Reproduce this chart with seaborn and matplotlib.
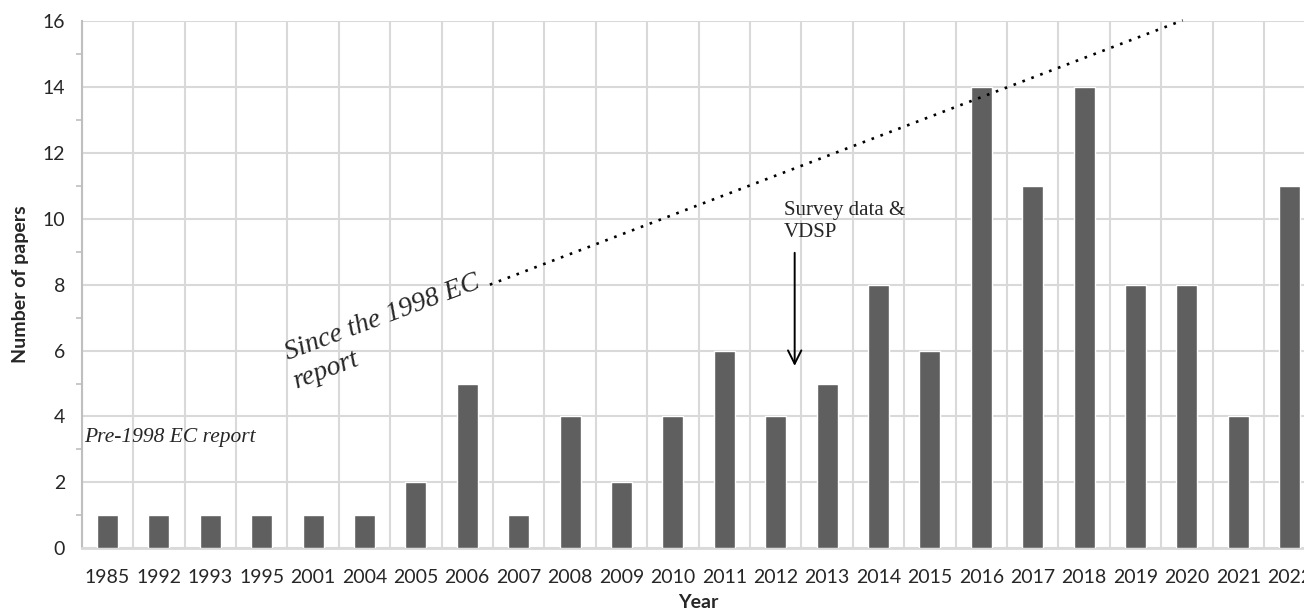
import numpy as np
import pandas as pd
import matplotlib
matplotlib.use("Agg")
import matplotlib.pyplot as plt
import seaborn as sns
from matplotlib.ticker import MultipleLocator

# Data
years = ["1985", "1992", "1993", "1995", "2001", "2004", "2005", "2006", "2007",
         "2008", "2009", "2010", "2011", "2012", "2013", "2014", "2015", "2016",
         "2017", "2018", "2019", "2020", "2021", "2022"]
papers = [1, 1, 1, 1, 1, 1, 2, 5, 1, 4, 2, 4, 6, 4, 5, 8, 6, 14, 11, 14, 8, 8, 4, 11]

BAR_COLOR = "#5f5f5f"
GRID_COLOR = "#d9d9d9"

sns.set_style("white")
plt.rcParams['font.family'] = ['Lato', 'DejaVu Sans']

df = pd.DataFrame({"Year": years, "Papers": papers})

fig = plt.figure(figsize=(13.04, 6.14), dpi=100)
# axes run slightly past the right edge, as in the cropped original
ax = fig.add_axes([0.0627, 0.107, 0.946, 0.8588])

sns.barplot(data=df, x="Year", y="Papers", order=years, color=BAR_COLOR,
            width=0.41, saturation=1, ax=ax, zorder=3)

n = len(years)
ax.set_xlim(-0.5, n - 0.5)
ax.set_ylim(0, 16)
ax.yaxis.set_major_locator(MultipleLocator(2))
ax.yaxis.set_minor_locator(MultipleLocator(1))

# gridlines: horizontal at major ticks, vertical at category boundaries
ax.grid(axis="y", which="major", color=GRID_COLOR, linewidth=1.5, zorder=0)
for b in np.arange(-0.5, n + 0.5, 1.0):
    ax.axvline(b, color=GRID_COLOR, linewidth=1.5, zorder=0)

for side in ["top", "right"]:
    ax.spines[side].set_visible(False)
ax.spines["left"].set_color("#bfbfbf")
ax.spines["left"].set_linewidth(1.5)
ax.spines["bottom"].set_color(GRID_COLOR)
ax.spines["bottom"].set_linewidth(2)

ax.tick_params(axis="y", which="major", direction="out", length=6, width=1.5,
               color="#bfbfbf", labelsize=14, pad=6)
ax.tick_params(axis="y", which="minor", direction="out", length=4, width=1.2,
               color="#bfbfbf", left=True)
ax.tick_params(axis="x", length=0, labelsize=14, pad=15)

ax.set_xlabel("Year", fontsize=14, fontweight="bold", labelpad=6)
ax.set_ylabel("Number of papers", fontsize=14, fontweight="bold", labelpad=10)

# annotations
ax.text(-0.45, 3.35, "Pre-1998 EC report", family="Liberation Serif",
        style="italic", fontsize=15.5, ha="left", va="center")

ax.plot([7.44, 20.92], [8.0, 16.02], linestyle=(0, (1, 2.6)), color="black",
        linewidth=1.9, zorder=4, clip_on=False)
ax.text(3.51, 5.71, "Since the 1998 EC", family="Liberation Serif",
        style="italic", fontsize=20, rotation=20.5, rotation_mode="anchor",
        ha="left", va="baseline")
ax.text(3.69, 4.86, "report", family="Liberation Serif",
        style="italic", fontsize=20, rotation=20.5, rotation_mode="anchor",
        ha="left", va="baseline")

ax.text(13.16, 9.44, "Survey data &\nVDSP", family="Liberation Serif",
        fontsize=15, ha="left", va="baseline", linespacing=1.2)
ax.annotate("", xy=(13.37, 5.45), xytext=(13.37, 9.05),
            arrowprops=dict(arrowstyle="->", color="black", lw=1.4,
                            mutation_scale=24))

fig.savefig("out.png", dpi=100)
